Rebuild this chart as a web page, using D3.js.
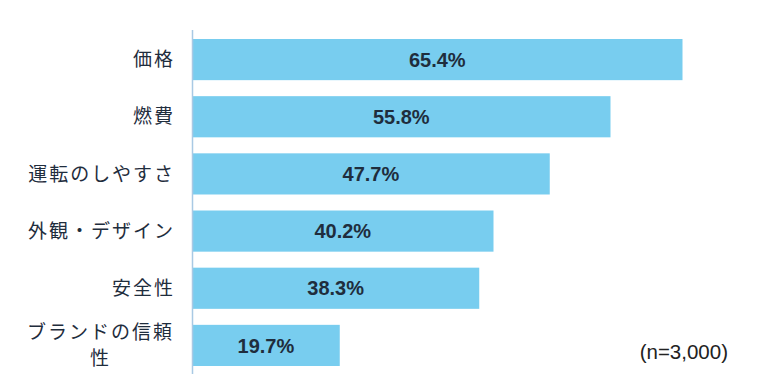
<!DOCTYPE html>
<html>
<head>
<meta charset="utf-8">
<script src="https://cdn.jsdelivr.net/npm/d3@7"></script>
<style>
  body { margin: 0; background: #fff; }
  svg { display: block; }
</style>
</head>
<body>
<div id="chart"></div>
<script>
var categories = ["価格", "燃費", "運転のしやすさ", "外観・デザイン", "安全性", "ブランドの信頼性"],
    values = [65.4, 55.8, 47.7, 40.2, 38.3, 19.7],
    note = "(n=3,000)";

var W = 768, H = 384,
    x0 = 192,
    textColor = "#1f2d3d";

var svg = d3.select("#chart").append("svg")
    .attr("width", W)
    .attr("height", H);

var x = d3.scaleLinear().domain([0, 70]).range([x0, x0 + 7.5 * 70]);
var y = d3.scaleBand().domain(categories).range([31, 374]).paddingInner(0.28).paddingOuter(0.14);

// bars
svg.selectAll("rect.bar")
    .data(values)
  .enter().append("rect")
    .attr("class", "bar")
    .attr("x", x(0))
    .attr("y", function(d, i) { return y(categories[i]); })
    .attr("width", function(d) { return x(d) - x(0); })
    .attr("height", y.bandwidth())
    .style("fill", "#78cdef");

// axis line
svg.append("line")
    .attr("x1", x0 + 0.5).attr("x2", x0 + 0.5)
    .attr("y1", 30).attr("y2", 374)
    .style("stroke", "#a9c9e4")
    .style("stroke-width", 1.5);

// value labels
svg.selectAll("text.val")
    .data(values)
  .enter().append("text")
    .attr("class", "val")
    .attr("x", function(d) { return (x(0) + x(d)) / 2; })
    .attr("y", function(d, i) { return y(categories[i]) + y.bandwidth() / 2; })
    .attr("dy", "0.36em")
    .attr("text-anchor", "middle")
    .style("font-family", "'Liberation Sans', Arial, sans-serif")
    .style("font-weight", "bold")
    .style("font-size", "20px")
    .style("fill", textColor)
    .text(function(d) { return d.toFixed(1) + "%"; });

// category labels (long one wraps after 7 chars, lines centred)
var labelRight = 173, maxChars = 7, lineH = 26, charW = 21, sp = 2;
svg.selectAll("text.cat")
    .data(categories)
  .enter().append("text")
    .attr("class", "cat")
    .style("font-family", "'Noto Sans CJK JP', sans-serif")
    .style("font-size", "19px")
    .style("letter-spacing", sp + "px")
    .style("fill", textColor)
    .each(function(d) {
      var t = d3.select(this),
          cy = y(d) + y.bandwidth() / 2,
          lines = [];
      for (var i = 0; i < d.length; i += maxChars) lines.push(d.slice(i, i + maxChars));
      if (lines.length == 1) {
        t.attr("text-anchor", "end")
          .append("tspan")
          .attr("x", labelRight + sp)
          .attr("y", cy)
          .attr("dy", "0.35em")
          .text(d);
      } else {
        var cx = labelRight - lines[0].length * charW / 2 + sp / 2;
        t.attr("text-anchor", "middle");
        lines.forEach(function(l, k) {
          t.append("tspan")
            .attr("x", cx)
            .attr("y", cy - (lines.length - 1) * lineH / 2 + k * lineH)
            .attr("dy", "0.35em")
            .text(l);
        });
      }
    });

svg.append("text")
    .attr("x", 728)
    .attr("y", 352)
    .attr("dy", "0.35em")
    .attr("text-anchor", "end")
    .style("font-family", "'Liberation Sans', Arial, sans-serif")
    .style("font-size", "20.5px")
    .style("fill", "#222")
    .text(note);
</script>
</body>
</html>
